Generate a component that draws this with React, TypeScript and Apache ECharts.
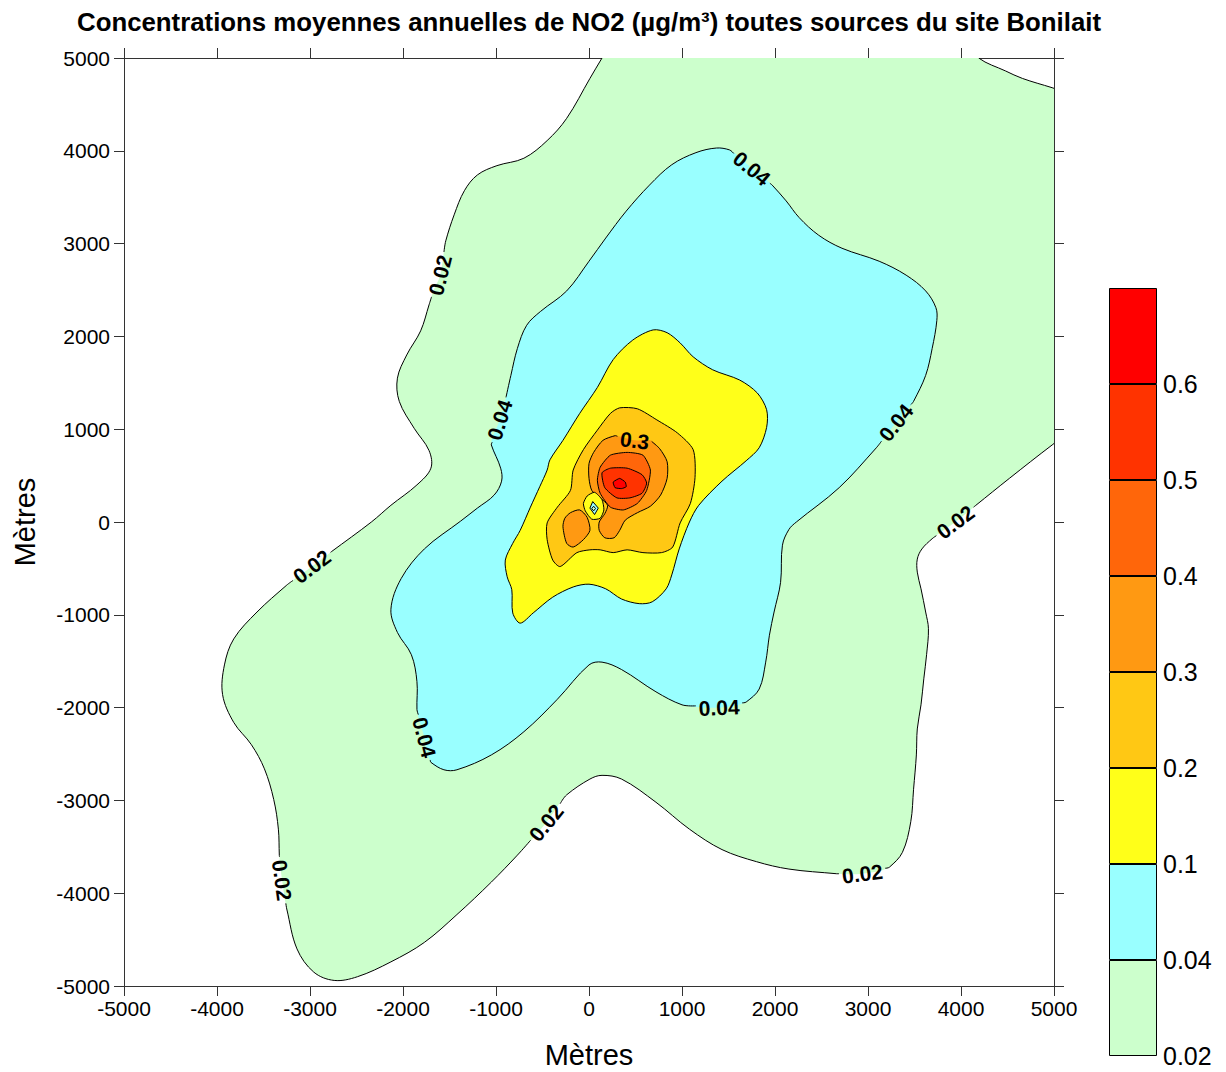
import React, { useEffect, useRef } from 'react';
import * as echarts from 'echarts';

const FONT = "'Liberation Sans', Arial, sans-serif";
const TITLE = 'Concentrations moyennes annuelles de NO2 (µg/m³) toutes sources du site Bonilait';
const AXIS_NAME = 'Mètres';

// colour bar
const LEVEL_LABELS = ['0.02', '0.04', '0.1', '0.2', '0.3', '0.4', '0.5', '0.6'];
const BAND_COLORS = ['#CCFFCC', '#99FFFF', '#FFFF19', '#FFC814', '#FF9912', '#FF660A', '#FF3300', '#FF0000'];

// contour outlines (metres)
const contour002 = [[260,5190],[140,5000],[10,4780],[-240,4350],[-450,4110],[-700,3920],[-990,3840],[-1200,3740],[-1340,3570],[-1450,3310],[-1540,3030],[-1600,2660],[-1670,2500],[-1720,2340],[-1810,2060],[-1960,1800],[-2060,1550],[-2040,1300],[-1880,1010],[-1720,770],[-1700,580],[-1850,400],[-2130,180],[-2340,0],[-2770,-320],[-2980,-480],[-3250,-680],[-3570,-970],[-3820,-1260],[-3920,-1540],[-3940,-1860],[-3820,-2160],[-3630,-2400],[-3490,-2660],[-3390,-2990],[-3340,-3310],[-3330,-3590],[-3300,-3860],[-3250,-4170],[-3140,-4600],[-2960,-4850],[-2740,-4940],[-2490,-4900],[-2130,-4740],[-1770,-4530],[-1420,-4230],[-1050,-3880],[-770,-3590],[-460,-3240],[-240,-2940],[10,-2770],[140,-2730],[350,-2770],[720,-3020],[1080,-3310],[1430,-3530],[1800,-3660],[2150,-3740],[2660,-3790],[2940,-3790],[3230,-3720],[3370,-3560],[3460,-3230],[3490,-2880],[3520,-2510],[3530,-2230],[3570,-1970],[3600,-1690],[3630,-1430],[3650,-1150],[3620,-970],[3570,-720],[3530,-540],[3530,-400],[3580,-290],[3690,-180],[3940,0],[4160,180],[4520,470],[4980,830],[5230,1010],[5400,1010],[5400,4600],[5230,4600],[4980,4680],[4660,4780],[4480,4860],[4190,5000],[4040,5190]];
const contour004 = [[0,2810],[-240,2490],[-520,2270],[-670,2120],[-770,1870],[-840,1580],[-900,1310],[-960,1100],[-1050,830],[-950,580],[-940,440],[-1020,290],[-1200,150],[-1380,10],[-1770,-290],[-2020,-610],[-2130,-940],[-2060,-1190],[-1910,-1430],[-1850,-1720],[-1850,-2020],[-1770,-2320],[-1700,-2590],[-1560,-2670],[-1420,-2670],[-1050,-2510],[-700,-2260],[-340,-1910],[0,-1540],[140,-1510],[350,-1590],[720,-1830],[1000,-1970],[1400,-2000],[1690,-1940],[1830,-1800],[1900,-1510],[1940,-1220],[1990,-970],[2060,-650],[2080,-250],[2150,-80],[2230,0],[2690,370],[3090,800],[3300,1070],[3490,1300],[3620,1580],[3690,1870],[3740,2170],[3730,2310],[3620,2490],[3410,2660],[3120,2810],[2720,2950],[2470,3090],[2260,3280],[2120,3460],[1970,3630],[1750,3810],[1510,4010],[1370,4030],[1150,3980],[890,3850],[650,3630],[400,3350],[180,3060]];
const contour01 = [[690,2070],[840,2040],[980,1930],[1120,1780],[1330,1640],[1620,1530],[1810,1390],[1910,1210],[1910,1020],[1830,800],[1690,660],[1430,440],[1180,180],[1080,0],[970,-290],[890,-570],[830,-720],[680,-860],[540,-880],[350,-830],[180,-720],[0,-670],[-170,-700],[-390,-810],[-600,-980],[-740,-1090],[-820,-980],[-830,-730],[-880,-590],[-900,-410],[-820,-230],[-740,-90],[-630,160],[-530,380],[-450,560],[-420,670],[-280,880],[-100,1170],[90,1450],[260,1750],[470,1960]];
const contour02 = [[230,1170],[330,1230],[520,1220],[730,1100],[950,960],[1120,780],[1140,480],[1090,200],[980,-10],[900,-270],[780,-330],[580,-330],[410,-300],[260,-330],[120,-300],[10,-300],[-130,-330],[-310,-480],[-390,-410],[-450,-190],[-450,-10],[-340,160],[-200,340],[-170,560],[-60,780],[90,990]];
const contour03 = [[150,880],[280,930],[490,880],[660,880],[760,790],[840,650],[840,470],[770,290],[660,170],[520,100],[390,20],[330,-90],[270,-170],[170,-170],[110,-90],[110,0],[170,90],[200,180],[120,260],[30,340],[0,470],[0,630],[50,750]];
const contour03b = [[-200,100],[-100,130],[-20,50],[10,-90],[-60,-190],[-170,-270],[-240,-230],[-280,-50],[-260,40]];
const contour04 = [[120,590],[230,720],[410,750],[580,720],[660,560],[620,340],[520,200],[370,130],[230,160],[120,310],[90,450]];
const contour05 = [[140,530],[230,580],[410,580],[570,510],[620,420],[570,310],[440,260],[300,260],[170,370]];
const contour06 = [[260,430],[330,470],[390,430],[400,380],[350,360],[280,370]];
const dip01 = [[-20,280],[60,320],[140,240],[160,130],[120,40],[30,30],[-40,120],[-60,200]];
const dip004 = [[40,220],[100,150],[60,80],[10,150]];
const dip002 = [[50,170],[70,145],[50,120],[30,145]];

// contour labels (metres)
const contourLabels = [
  { c: 'c002', x: -1600, y: 2660, text: '0.02' },
  { c: 'c002', x: -2980, y: -480, text: '0.02' },
  { c: 'c002', x: -3300, y: -3860, text: '0.02' },
  { c: 'c002', x: -460, y: -3240, text: '0.02' },
  { c: 'c002', x: 2940, y: -3790, text: '0.02' },
  { c: 'c002', x: 3940, y: 0, text: '0.02' },
  { c: 'c004', x: -960, y: 1100, text: '0.04' },
  { c: 'c004', x: -1770, y: -2320, text: '0.04' },
  { c: 'c004', x: 1400, y: -2000, text: '0.04' },
  { c: 'c004', x: 3300, y: 1070, text: '0.04' },
  { c: 'c004', x: 1750, y: 3810, text: '0.04' },
  { c: 'c03', x: 490, y: 880, text: '0.3' },
];

const contours = [
  { id: 'c002', points: contour002, color: BAND_COLORS[0], smooth: 0.35 },
  { id: 'c004', points: contour004, color: BAND_COLORS[1], smooth: 0.35 },
  { id: 'c01', points: contour01, color: BAND_COLORS[2], smooth: 0.3 },
  { id: 'c02', points: contour02, color: BAND_COLORS[3], smooth: 0.25 },
  { id: 'c03', points: contour03, color: BAND_COLORS[4], smooth: 0.25 },
  { id: 'c03b', points: contour03b, color: BAND_COLORS[4], smooth: 0.25 },
  { id: 'c04', points: contour04, color: BAND_COLORS[5], smooth: 0.2 },
  { id: 'c05', points: contour05, color: BAND_COLORS[6], smooth: 0.2 },
  { id: 'c06', points: contour06, color: BAND_COLORS[7], smooth: 0.15 },
  { id: 'd01', points: dip01, color: BAND_COLORS[2], smooth: 0.2 },
  { id: 'd004', points: dip004, color: BAND_COLORS[1], smooth: 0 },
  { id: 'd002', points: dip002, color: BAND_COLORS[0], smooth: 0 },
];

const LABEL_SIZE = 21;

function halfGap(text: string) {
  let w = 0;
  for (const ch of text) w += ch === '.' ? 0.278 : 0.556;
  return (w * LABEL_SIZE) / 2 + 3;
}

function dist(a: number[], b: number[]) {
  return Math.hypot(a[0] - b[0], a[1] - b[1]);
}

function nearestIndex(pts: number[][], p: number[]) {
  let best = 0;
  let bd = Infinity;
  pts.forEach((q, i) => {
    const d = dist(q, p);
    if (d < bd) { bd = d; best = i; }
  });
  return best;
}

function strokeParts(pts: number[][], cuts: { k: number; h: number }[]) {
  const N = pts.length;
  const cum = [0];
  for (let i = 1; i < N; i++) cum[i] = cum[i - 1] + dist(pts[i - 1], pts[i]);
  const T = cum[N - 1] + dist(pts[N - 1], pts[0]);
  const at = (s0: number) => {
    const s = ((s0 % T) + T) % T;
    for (let i = 0; i < N; i++) {
      const a = cum[i];
      const b = i < N - 1 ? cum[i + 1] : T;
      if (s >= a && s <= b) {
        const p0 = pts[i];
        const p1 = pts[(i + 1) % N];
        const t = b > a ? (s - a) / (b - a) : 0;
        return [p0[0] + (p1[0] - p0[0]) * t, p0[1] + (p1[1] - p0[1]) * t];
      }
    }
    return pts[0];
  };
  const cs = cuts.map((c) => ({ s: cum[c.k], h: c.h })).sort((a, b) => a.s - b.s);
  const parts: number[][][] = [];
  for (let j = 0; j < cs.length; j++) {
    const a = cs[j].s + cs[j].h;
    const nx = cs[(j + 1) % cs.length];
    let b = nx.s - nx.h;
    if (j + 1 === cs.length) b += T;
    if (b <= a) continue;
    const part = [at(a)];
    for (let m = 0; m < 2 * N; m++) {
      const c = cum[m % N] + (m >= N ? T : 0);
      if (c > a && c < b) part.push(pts[m % N]);
    }
    part.push(at(b));
    parts.push(part);
  }
  return parts;
}

function contourSeries(c: any) {
  return {
    type: 'custom',
    coordinateSystem: 'cartesian2d',
    xAxisIndex: 0,
    yAxisIndex: 0,
    clip: true,
    silent: true,
    data: [c.points[0]],
    renderItem: (params: any, api: any) => {
      if (params.dataIndex !== 0) return null;
      const pts = c.points.map((p: number[]) => api.coord(p));
      const labs = contourLabels.filter((l) => l.c === c.id);
      const children: any[] = [
        {
          type: 'polygon',
          shape: { points: pts, smooth: c.smooth },
          style: { fill: c.color, stroke: labs.length ? 'none' : '#000', lineWidth: 1 },
        },
      ];
      if (labs.length) {
        const cuts = labs.map((l) => ({ k: nearestIndex(pts, api.coord([l.x, l.y])), h: halfGap(l.text) }));
        strokeParts(pts, cuts).forEach((part) => {
          children.push({
            type: 'polyline',
            shape: { points: part, smooth: c.smooth },
            style: { fill: 'none', stroke: '#000', lineWidth: 1 },
          });
        });
      }
      return { type: 'group', children };
    },
  };
}

const labelSeries = {
  type: 'custom',
  coordinateSystem: 'cartesian2d',
  xAxisIndex: 0,
  yAxisIndex: 0,
  clip: false,
  silent: true,
  z: 5,
  data: contourLabels.map((l) => [l.x, l.y]),
  renderItem: (params: any, api: any) => {
    const l = contourLabels[params.dataIndex];
    const c = contours.find((cc) => cc.id === l.c)!;
    const pts = c.points.map((p: number[]) => api.coord(p));
    const N = pts.length;
    const k = nearestIndex(pts, api.coord([l.x, l.y]));
    const a = pts[(k - 1 + N) % N];
    const b = pts[(k + 1) % N];
    let ang = Math.atan2(-(b[1] - a[1]), b[0] - a[0]);
    if (ang > Math.PI / 2) ang -= Math.PI;
    if (ang < -Math.PI / 2) ang += Math.PI;
    return {
      type: 'text',
      x: pts[k][0],
      y: pts[k][1],
      rotation: ang,
      style: {
        text: l.text,
        fill: '#000',
        fontSize: LABEL_SIZE,
        fontWeight: 'bold',
        fontFamily: FONT,
        align: 'center',
        verticalAlign: 'middle',
      },
    };
  },
};

const lineStyle = { color: '#333', width: 1 };

function valueAxis(position: string, showLabels: boolean, isX: boolean) {
  return {
    type: 'value',
    gridIndex: 0,
    min: -5000,
    max: 5000,
    interval: 1000,
    position,
    axisLine: { show: true, onZero: false, lineStyle },
    axisTick: { show: true, inside: false, length: 10, lineStyle },
    axisLabel: {
      show: showLabels,
      color: '#000',
      fontSize: 21,
      fontFamily: FONT,
      margin: isX ? 12 : 14,
      formatter: (v: number) => String(v),
    },
    splitLine: { show: false },
  };
}

const option = {
  animation: false,
  backgroundColor: '#fff',
  grid: [
    { left: 124, top: 58, width: 930, height: 928, containLabel: false },
    { left: 1109, top: 288, width: 48, height: 768, containLabel: false },
  ],
  xAxis: [
    valueAxis('bottom', true, true),
    valueAxis('top', false, true),
    { type: 'category', gridIndex: 1, data: [''], show: false },
  ],
  yAxis: [
    valueAxis('left', true, false),
    valueAxis('right', false, false),
    {
      type: 'value',
      gridIndex: 1,
      min: 0,
      max: 8,
      interval: 1,
      position: 'right',
      axisLine: { show: false },
      axisTick: { show: false },
      splitLine: { show: false },
      axisLabel: {
        color: '#000',
        fontSize: 25,
        fontFamily: FONT,
        margin: 6,
        formatter: (v: number) => LEVEL_LABELS[v] ?? '',
      },
    },
  ],
  graphic: {
    elements: [
      {
        type: 'text',
        x: 589,
        y: 22,
        style: { text: TITLE, fontSize: 25.8, fontWeight: 'bold', fontFamily: FONT, fill: '#000', align: 'center', verticalAlign: 'middle' },
      },
      {
        type: 'text',
        x: 589,
        y: 1055,
        style: { text: AXIS_NAME, fontSize: 29, fontFamily: FONT, fill: '#000', align: 'center', verticalAlign: 'middle' },
      },
      {
        type: 'text',
        x: 25,
        y: 522,
        rotation: Math.PI / 2,
        style: { text: AXIS_NAME, fontSize: 29, fontFamily: FONT, fill: '#000', align: 'center', verticalAlign: 'middle' },
      },
    ],
  },
  series: [
    ...contours.map(contourSeries),
    labelSeries,
    ...BAND_COLORS.map((col) => ({
      type: 'bar',
      xAxisIndex: 2,
      yAxisIndex: 2,
      stack: 'cb',
      data: [1],
      barWidth: '100%',
      silent: true,
      itemStyle: { color: col, borderColor: '#000', borderWidth: 1 },
    })),
  ],
};

export default function App() {
  const ref = useRef<HTMLDivElement>(null);
  useEffect(() => {
    const chart = echarts.init(ref.current!, null, { renderer: 'svg' });
    chart.setOption(option as any);
    return () => chart.dispose();
  }, []);
  return (
    <div
      ref={ref}
      style={{ position: 'absolute', left: 0, top: 0, width: 1226, height: 1072, background: '#fff' }}
    />
  );
}
